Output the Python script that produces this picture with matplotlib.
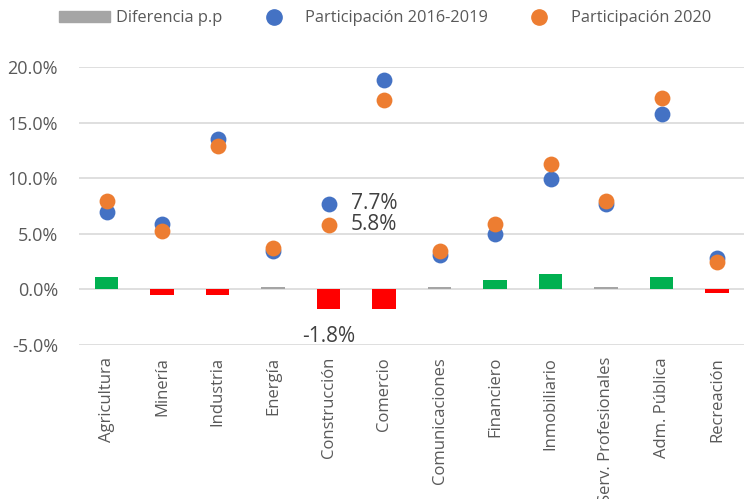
import numpy as np
import matplotlib
matplotlib.use("Agg")
import matplotlib.pyplot as plt
from matplotlib.ticker import FuncFormatter
from matplotlib.lines import Line2D
from matplotlib.patches import Patch

plt.rcParams["font.family"] = ["Open Sans", "DejaVu Sans"]

sectores = ["Agricultura", "Minería", "Industria", "Energía", "Construcción",
            "Comercio", "Comunicaciones", "Financiero", "Inmobiliario",
            "Serv. Profesionales", "Adm. Pública", "Recreación"]
part_2016_2019 = [6.9, 5.9, 13.5, 3.4, 7.7, 18.8, 3.1, 5.0, 9.9, 7.7, 15.8, 2.8]
part_2020 = [7.9, 5.2, 12.9, 3.7, 5.8, 17.0, 3.4, 5.9, 11.3, 7.9, 17.2, 2.4]
diferencia = [1.1, -0.5, -0.5, 0.2, -1.8, -1.8, 0.2, 0.8, 1.35, 0.2, 1.1, -0.4]

VERDE, ROJO, GRIS = "#00B050", "#FF0000", "#A5A5A5"
AZUL, NARANJA = "#4472C4", "#ED7D31"
TXT = "#595959"

def color_barra(v):
    if abs(v) < 0.3:
        return GRIS
    return VERDE if v > 0 else ROJO

fig = plt.figure(figsize=(7.44, 4.99), dpi=100)
ax = fig.add_axes([0.106, 0.3096, 0.895, 0.5561])

x = np.arange(len(sectores))
ax.bar(x, diferencia, width=0.42, color=[color_barra(v) for v in diferencia], zorder=2)
ax.scatter(x, part_2016_2019, s=130, color=AZUL, zorder=3, clip_on=False, linewidths=0)
ax.scatter(x, part_2020, s=130, color=NARANJA, zorder=4, clip_on=False, linewidths=0)

# etiquetas de Construcción
i = sectores.index("Construcción")
ax.annotate(f"{part_2016_2019[i]:.1f}%", (x[i], part_2016_2019[i]), xytext=(16, 0),
            textcoords="offset points", va="center", ha="left", fontsize=15, color="#404040")
ax.annotate(f"{part_2020[i]:.1f}%", (x[i], part_2020[i]), xytext=(16, 0),
            textcoords="offset points", va="center", ha="left", fontsize=15, color="#404040")
ax.annotate(f"{diferencia[i]:.1f}%", (x[i], diferencia[i]), xytext=(0, -20),
            textcoords="offset points", va="center", ha="center", fontsize=15, color="#404040")

ax.set_xlim(-0.5, len(sectores) - 0.5)
ax.set_ylim(-5, 20)
ax.set_yticks(np.arange(-5, 21, 5))
ax.yaxis.set_major_formatter(FuncFormatter(lambda v, p: f"{v:.1f}%"))
ax.set_xticks(x)
ax.set_xticklabels(sectores, rotation=90, fontsize=12, color=TXT)
ax.tick_params(axis="x", length=0, pad=9)
ax.tick_params(axis="y", length=0, pad=15, labelsize=13, labelcolor=TXT)
ax.grid(axis="y", color="#D9D9D9", linewidth=1.2, zorder=0)
ax.set_axisbelow(True)
for s in ax.spines.values():
    s.set_visible(False)

handles = [Patch(color=GRIS),
           Line2D([], [], marker="o", linestyle="none", markersize=11, color=AZUL),
           Line2D([], [], marker="o", linestyle="none", markersize=11, color=NARANJA)]
labels = ["Diferencia p.p", "Participación 2016-2019", "Participación 2020"]
leg = fig.legend(handles, labels, loc="center left", bbox_to_anchor=(0.0793, 0.963), ncol=3,
                 frameon=False, fontsize=11.8, handlelength=3.1, handleheight=0.68,
                 columnspacing=1.6, handletextpad=0.36, borderpad=0, borderaxespad=0)
for t in leg.get_texts():
    t.set_color(TXT)

fig.savefig("out.png", dpi=100)
